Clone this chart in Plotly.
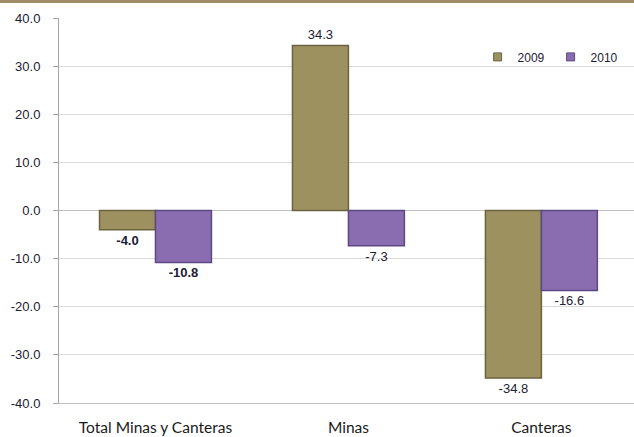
import plotly.graph_objects as go

categories = ["Total Minas y Canteras", "Minas", "Canteras"]
values_2009 = [-4.0, 34.3, -34.8]
values_2010 = [-10.8, -7.3, -16.6]
series_names = ["2009", "2010"]
tick_vals = [-40, -30, -20, -10, 0, 10, 20, 30, 40]
tick_text = ["-40.0", "-30.0", "-20.0", "-10.0", "0.0", "10.0", "20.0", "30.0", "40.0"]

label_color = "#1c2033"
colors = ["#9d9160", "#8a6db0"]
edges = ["#6b6340", "#5e4884"]

def labels(vals):
    out = []
    for i, v in enumerate(vals):
        s = f"{v:.1f}"
        out.append(f"<b>{s}</b>" if i == 0 else s)
    return out

fig = go.Figure()
for name, vals, c, e in zip(series_names, [values_2009, values_2010], colors, edges):
    fig.add_trace(go.Bar(
        x=categories, y=vals, name=name, showlegend=False,
        marker=dict(color=c, line=dict(color=e, width=1.5)),
        text=labels(vals), textposition="outside", cliponaxis=False,
        textfont=dict(family="Liberation Sans, Arial", size=13, color=label_color),
    ))
# legend entries with small square markers
for name, c, e in zip(series_names, colors, edges):
    fig.add_trace(go.Scatter(
        x=[None], y=[None], mode="markers", name=name, showlegend=True,
        marker=dict(symbol="square", size=8, color=c, line=dict(color=e, width=1)),
    ))

fig.update_layout(
    width=634, height=437,
    margin=dict(l=59, r=0, t=18, b=34, autoexpand=False),
    paper_bgcolor="white", plot_bgcolor="white",
    barmode="group", bargap=0.42, bargroupgap=0,
    legend=dict(orientation="h", x=0.728, y=0.899, xanchor="left", yanchor="middle",
                font=dict(family="Liberation Sans, Arial", size=12, color=label_color),
                itemwidth=30, entrywidth=28, bgcolor="rgba(0,0,0,0)"),
    font=dict(family="Liberation Sans, Arial", color=label_color),
    xaxis=dict(range=[-0.5, 2.48], showgrid=False, showline=True, linecolor="#bfbfbf",
               ticks="", ticklabelstandoff=10,
               tickfont=dict(family="Lato, Open Sans", size=15.5, color="#1a1a1a"),
               zeroline=False),
    yaxis=dict(range=[-40, 40], tickvals=tick_vals, ticktext=tick_text,
               showgrid=True, gridcolor="#d9d9d9", gridwidth=1,
               zeroline=True, zerolinecolor="#bfbfbf", zerolinewidth=1,
               showline=True, linecolor="#a6a6a6", linewidth=1,
               ticks="outside", ticklen=5, tickcolor="#a6a6a6", ticklabelstandoff=10,
               tickfont=dict(family="Liberation Sans, Arial", size=13, color=label_color)),
    shapes=[dict(type="line", xref="paper", yref="paper",
                 x0=-0.2, x1=1.1, y0=1 + 16.5 / 385, y1=1 + 16.5 / 385,
                 line=dict(color="#a38d64", width=3))],
)

fig.write_html("out.html", config={"displayModeBar": False},
               post_script="document.body.style.margin='0px';document.body.style.overflow='hidden';")
